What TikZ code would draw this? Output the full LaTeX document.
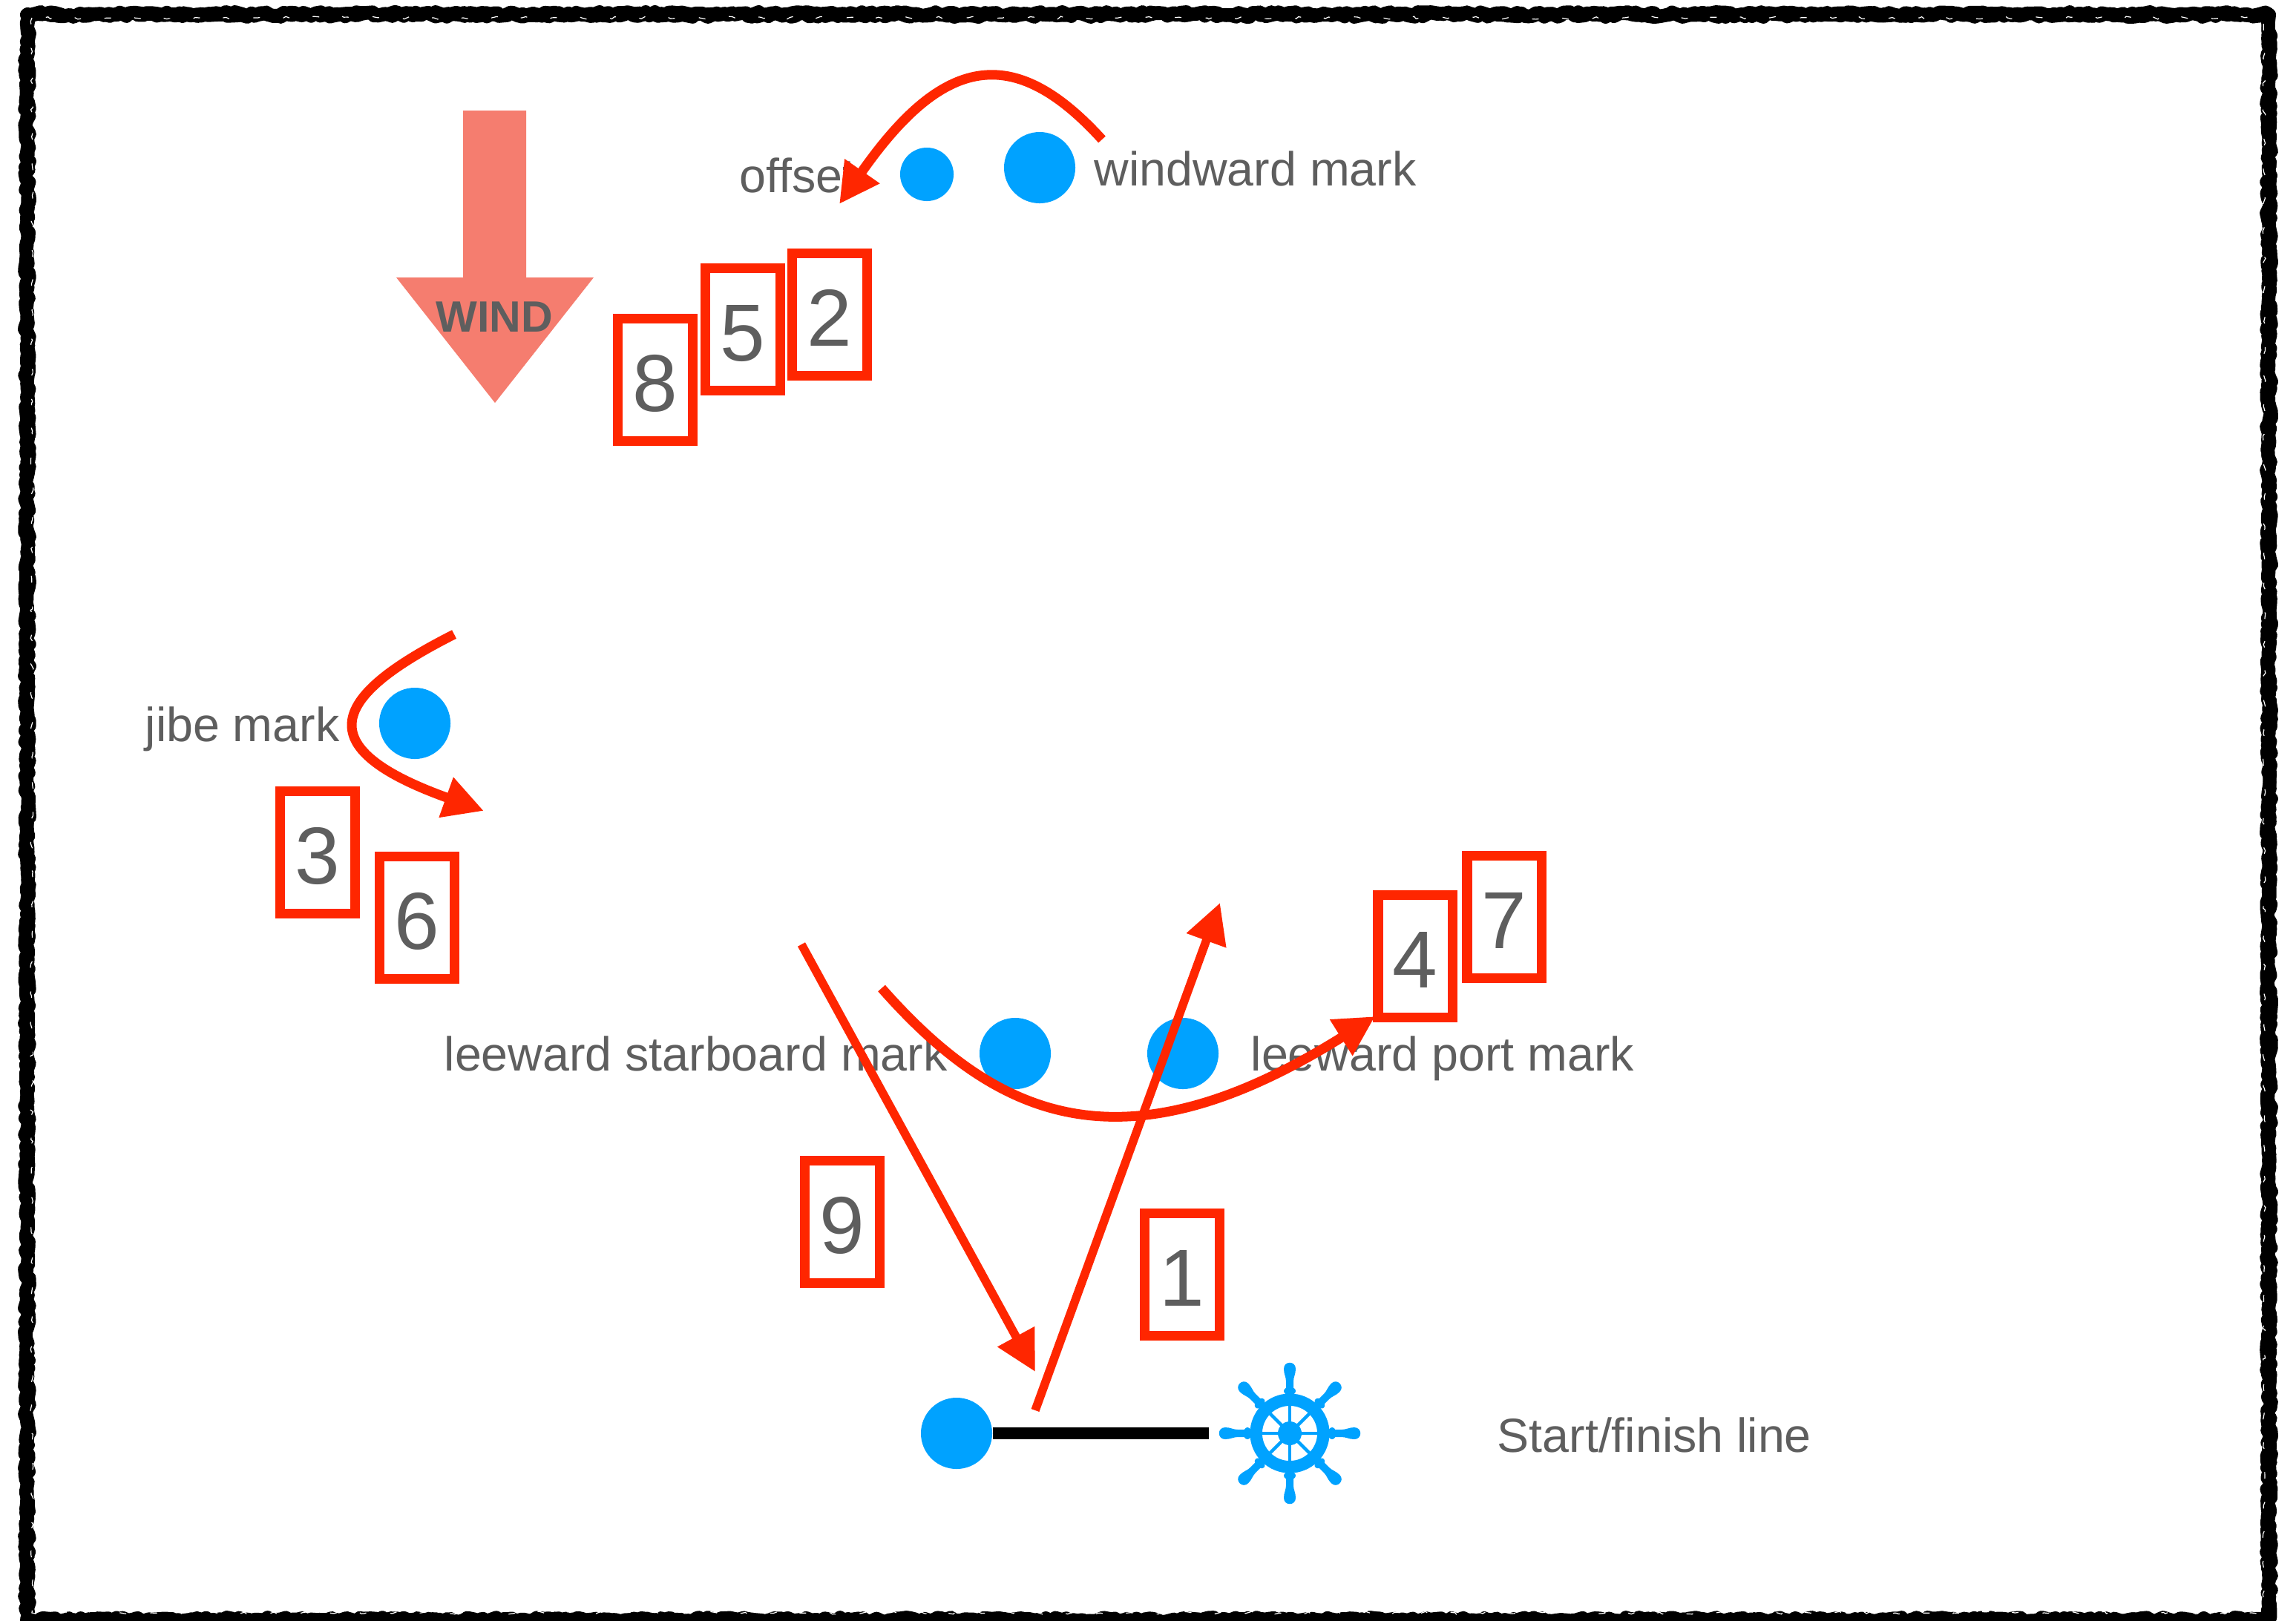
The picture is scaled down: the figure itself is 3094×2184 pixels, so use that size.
\documentclass[tikz,border=0pt]{standalone}
\usepackage{fontspec}
\setmainfont{Liberation Sans}
\usepackage{tikz}
\usetikzlibrary{arrows.meta, decorations.pathmorphing}
\definecolor{markblue}{HTML}{00A2FF}
\definecolor{legred}{HTML}{FF2600}
\definecolor{windred}{HTML}{F57D6F}
\definecolor{labelgrey}{HTML}{5E5E5E}
\tikzset{
	bigmark/.style={circle, fill=markblue, minimum size=0.96cm, inner sep=0pt},
	smallmark/.style={circle, fill=markblue, minimum size=0.72cm, inner sep=0pt},
	marklabel/.style={anchor=base west, inner sep=0pt, text=labelgrey, font=\fontsize{18.35}{20}\selectfont},
	legbox/.style={rectangle, draw=legred, line width=0.13cm, minimum width=1cm, minimum height=1.65cm, inner sep=0pt, text=labelgrey, text height=0.84cm, text depth=0pt, font=\fontsize{31}{36}\selectfont},
	straightleg/.style={draw=legred, line width=0.115cm, -{Triangle[length=0.54cm, width=0.54cm]}},
	curvedleg/.style={draw=legred, line width=0.13cm, -{Triangle[length=0.54cm, width=0.54cm]}},
	roughline/.style={black, line width=0.18cm, line join=round, decorate, decoration={random steps, segment length=0.06cm, amplitude=0.03cm}}
}
\begin{document}
\begin{tikzpicture}[x=0.01cm, y=-0.01cm]
		\clip (0,0) rectangle (3094,2184);
		\pgfmathsetseed{7}
		\draw[roughline] (37,19) rectangle (3057,2184);
		\draw[roughline] (36,20) rectangle (3058,2183);
		\draw[white, line width=0.012cm, dash pattern=on 0.09cm off 0.33cm, decorate, decoration={random steps, segment length=0.05cm, amplitude=0.02cm}] (43,24) rectangle (3051,2174);

		\fill[windred] (624,149) -- (709,149) -- (709,374) -- (800,374) -- (667,543) -- (534,374) -- (624,374) -- cycle;
		\node at (666,447) [anchor=base, inner sep=0pt, text=labelgrey, font=\fontsize{16.8}{20}\selectfont\bfseries] (wind) {WIND};

		\node at (1249,235) [smallmark] (offset) {};
		\node at (1401,226) [bigmark] (windward) {};
		\node at (559,975) [bigmark] (jibe) {};
		\node at (1368,1420) [bigmark] (leestar) {};
		\node at (1594,1420) [bigmark] (leeport) {};
		\node at (1289,1932) [bigmark] (startmark) {};

		\node at (996,259) [marklabel] (offsetlabel) {offset};
		\node at (1474,250) [marklabel] (windwardlabel) {windward mark};
		\node at (195,999) [marklabel] (jibelabel) {jibe mark};
		\node at (598,1443) [marklabel] (leestarlabel) {leeward starboard mark};
		\node at (1685,1443) [marklabel] (leeportlabel) {leeward port mark};
		\node at (2017,1957) [marklabel] (linelabel) {Start/finish line};

		\coordinate (linefree) at (1629,1932);
		\draw[black, line width=0.16cm] (startmark) -- (linefree);
		\begin{scope}[shift={(1738,1932)}]
			\fill[markblue] (0,0) coordinate (wheel) circle [radius=0.16cm];
			\draw[markblue, line width=0.165cm] (wheel) circle [radius=0.453cm];
			\foreach \a in {0,45,...,315} {
				\begin{scope}[rotate=\a]
					\draw[markblue, line width=0.045cm] (wheel) -- (0,42);
					\fill[markblue] (-5,50) -- (-5,70) .. controls (-5,76) and (-8,80) .. (-8,87) .. controls (-8,98) and (8,98) .. (8,87) .. controls (8,80) and (5,76) .. (5,70) -- (5,50) -- cycle;
					\fill[markblue] (0,57) ellipse [x radius=0.08cm, y radius=0.055cm];
				\end{scope}
			}
		\end{scope}

		\node at (1593,1718) [legbox] (leg1) {1};
		\node at (1118,424) [legbox] (leg2) {2};
		\node at (428,1149) [legbox] (leg3) {3};
		\node at (1907,1289) [legbox] (leg4) {4};
		\node at (1001,444) [legbox] (leg5) {5};
		\node at (562,1237) [legbox] (leg6) {6};
		\node at (2027,1236) [legbox] (leg7) {7};
		\node at (883,512) [legbox] (leg8) {8};
		\node at (1135,1647) [legbox] (leg9) {9};

		\coordinate (beatstart) at (1395,1901);
		\coordinate (beatend) at (1644,1217);
		\coordinate (runstart) at (1080,1273);
		\coordinate (runend) at (1395,1849);
		\coordinate (roundstart) at (1485,188);
		\coordinate (roundend) at (1131,275);
		\coordinate (jibestart) at (612,855);
		\coordinate (jibeend) at (652,1093);
		\coordinate (gatestart) at (1188,1332);
		\coordinate (gateend) at (1853,1370);
		\draw[straightleg] (beatstart) -- (beatend);
		\draw[straightleg] (runstart) -- (runend);
		\draw[curvedleg] (roundstart) .. controls (1365,56) and (1270,76) .. (roundend);
		\draw[curvedleg] (jibestart) .. controls (448,938) and (412,1007) .. (jibeend);
		\draw[curvedleg] (gatestart) .. controls (1345,1510) and (1515,1582) .. (gateend);
	\end{tikzpicture}
\end{document}
